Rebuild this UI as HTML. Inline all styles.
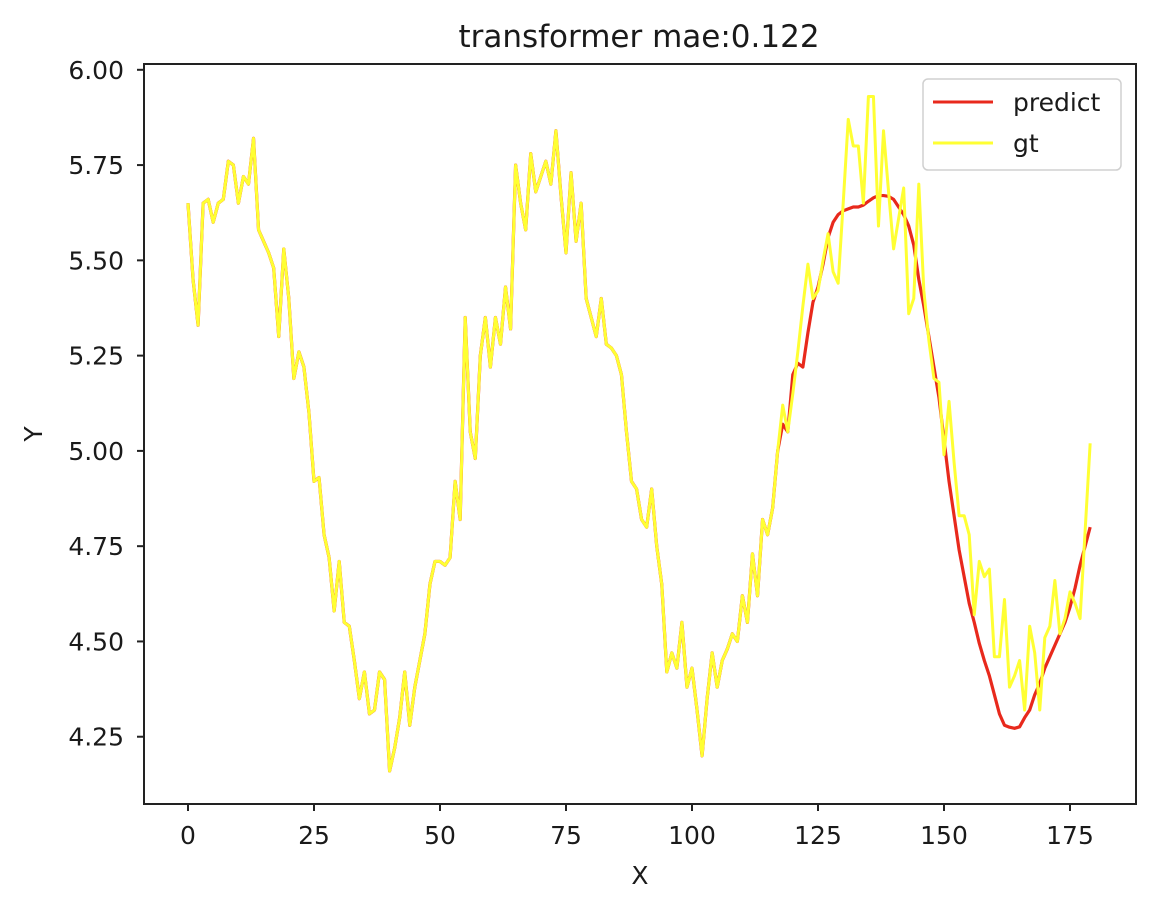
<!DOCTYPE html>
<html><head><meta charset="utf-8"><style>
html,body{margin:0;padding:0;background:#fff;}
svg{display:block;font-family:"DejaVu Sans","Liberation Sans",sans-serif;}
</style></head><body>
<svg id="chart" width="1172" height="918" viewBox="0 0 1172 918">
<text x="639" y="47" text-anchor="middle" font-size="31" fill="#1a1a1a">transformer mae:0.122</text>
<g id="plot"></g>
<rect x="144" y="64" width="992" height="740" fill="none" stroke="#222" stroke-width="2"/>
<g id="xticks"></g>
<g id="yticks"></g>
<text x="640" y="884" text-anchor="middle" font-size="25" fill="#1a1a1a">X</text>
<text x="0" y="0" transform="translate(42,434) rotate(-90)" text-anchor="middle" font-size="25" fill="#1a1a1a">Y</text>
<g>
<rect x="923" y="79" width="198" height="91" rx="5" fill="#fff" fill-opacity="0.8" stroke="#d0d0d0" stroke-width="1.5"/>
<line x1="933" y1="102" x2="993" y2="102" stroke="#e8291c" stroke-width="3"/>
<text x="1013" y="111" font-size="25" fill="#1a1a1a">predict</text>
<line x1="933" y1="143" x2="993" y2="143" stroke="#ffff33" stroke-width="3"/>
<text x="1013" y="152" font-size="25" fill="#1a1a1a">gt</text>
</g>
</svg>
<script>
const common = [5.65,5.45,5.33,5.65,5.66,5.60,5.65,5.66,5.76,5.75,5.65,5.72,5.70,5.82,5.58,5.55,5.52,5.48,5.30,5.53,5.40,5.19,5.26,5.22,5.10,4.92,4.93,4.78,4.72,4.58,4.71,4.55,4.54,4.45,4.35,4.42,4.31,4.32,4.42,4.40,4.16,4.22,4.30,4.42,4.28,4.38,4.45,4.52,4.65,4.71,4.71,4.70,4.72,4.92,4.82,5.35,5.05,4.98,5.25,5.35,5.22,5.35,5.28,5.43,5.32,5.75,5.65,5.58,5.78,5.68,5.72,5.76,5.70,5.84,5.67,5.52,5.73,5.55,5.65,5.40,5.35,5.30,5.40,5.28,5.27,5.25,5.20,5.05,4.92,4.90,4.82,4.80,4.90,4.75,4.65,4.42,4.47,4.43,4.55,4.38,4.43,4.32,4.20,4.35,4.47,4.38,4.45,4.48,4.52,4.50,4.62,4.55,4.73,4.62,4.82,4.78,4.85,5.00];
const gtTail = [5.12,5.05,5.15,5.26,5.38,5.49,5.40,5.42,5.50,5.57,5.47,5.44,5.65,5.87,5.80,5.80,5.65,5.93,5.93,5.59,5.84,5.68,5.53,5.61,5.69,5.36,5.40,5.70,5.42,5.29,5.19,5.18,4.99,5.13,4.97,4.83,4.83,4.78,4.57,4.71,4.67,4.69,4.46,4.46,4.61,4.38,4.41,4.45,4.32,4.54,4.47,4.32,4.51,4.54,4.66,4.52,4.56,4.63,4.60,4.56,4.79,5.02];
const predictTail = [5.07,5.05,5.20,5.23,5.22,5.31,5.39,5.43,5.49,5.56,5.60,5.62,5.63,5.635,5.64,5.64,5.645,5.655,5.664,5.67,5.67,5.668,5.66,5.64,5.62,5.59,5.54,5.45,5.38,5.30,5.22,5.14,5.03,4.92,4.83,4.74,4.67,4.60,4.55,4.495,4.45,4.41,4.36,4.31,4.28,4.275,4.272,4.276,4.30,4.32,4.36,4.39,4.43,4.46,4.49,4.52,4.55,4.59,4.64,4.70,4.75,4.80];
const xTicks = [0,25,50,75,100,125,150,175];
const yTicks = [4.25,4.50,4.75,5.00,5.25,5.50,5.75,6.00];
const gt = common.concat(gtTail);
const predict = common.concat(predictTail);

const NS = "http://www.w3.org/2000/svg";
const xScale = v => 188 + v * 5.04;
const yScale = v => 69.8 + (6 - v) * 381.1;

function mk(tag, attrs, parent) {
  const e = document.createElementNS(NS, tag);
  for (const k in attrs) e.setAttribute(k, attrs[k]);
  parent.appendChild(e);
  return e;
}
function pathOf(arr) {
  return arr.map((v, i) => (i ? "L" : "M") + xScale(i).toFixed(2) + "," + yScale(v).toFixed(2)).join("");
}
const plot = document.getElementById("plot");
const p1 = mk("path", {d: pathOf(predict), fill: "none", stroke: "#e8291c", "stroke-width": 3.2, "stroke-linejoin": "round"}, plot);


const p2 = mk("path", {d: pathOf(gt), fill: "none", stroke: "#ffff33", "stroke-width": 3, "stroke-linejoin": "round"}, plot);



const xg = document.getElementById("xticks");
xTicks.forEach(t => {
  const x = xScale(t);
  const l = mk("line", {x1: x, y1: 804, x2: x, y2: 811, stroke: "#222", "stroke-width": 2}, xg);
  
  
  const tx = mk("text", {x: x, y: 844, "text-anchor": "middle", "font-size": 25, fill: "#1a1a1a"}, xg);
  tx.textContent = String(t);
  
  
});
const yg = document.getElementById("yticks");
yTicks.forEach(t => {
  const y = yScale(t);
  const l = mk("line", {x1: 137, y1: y, x2: 144, y2: y, stroke: "#222", "stroke-width": 2}, yg);
  
  
  const tx = mk("text", {x: 124, y: y + 9, "text-anchor": "end", "font-size": 25, fill: "#1a1a1a"}, yg);
  tx.textContent = t.toFixed(2);
  
  
});
</script>
</body></html>
